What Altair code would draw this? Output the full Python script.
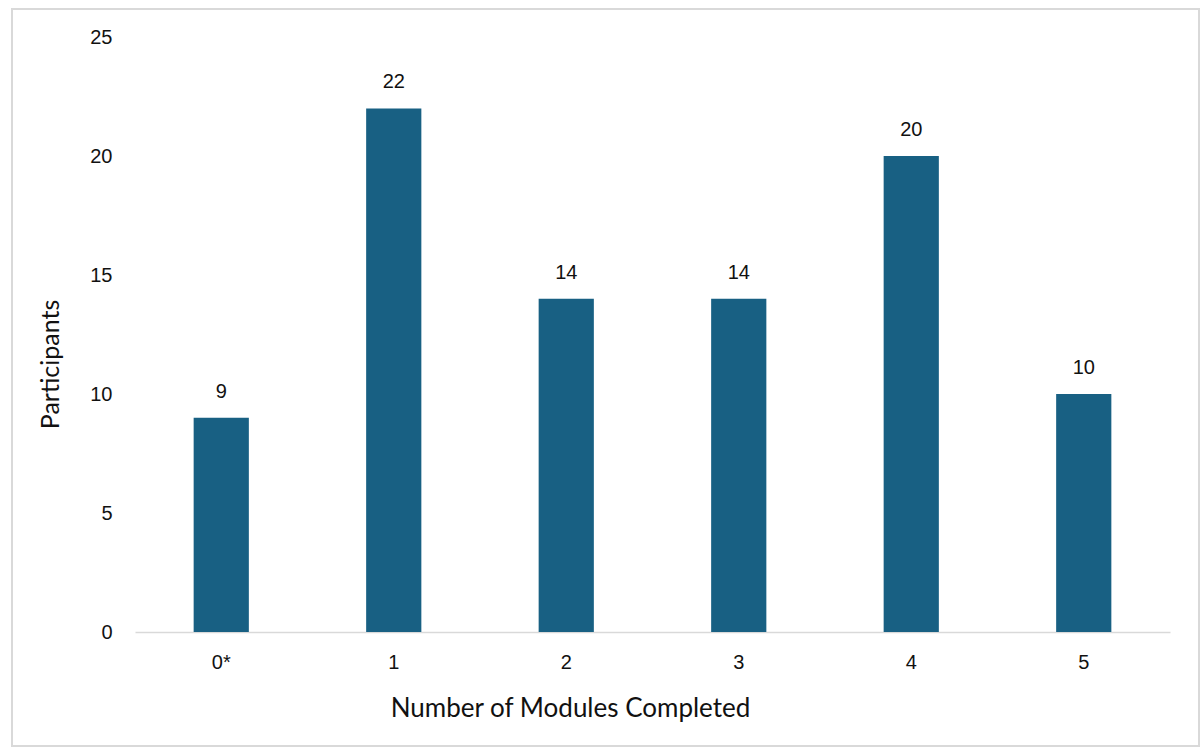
import altair as alt
import pandas as pd

categories = ["0*", "1", "2", "3", "4", "5"]
participants = [9, 22, 14, 14, 20, 10]

df = pd.DataFrame({"modules": categories, "participants": participants})

W, H = 1035, 595

yscale = alt.Scale(domain=[0, 25], nice=False, zero=True)

x = alt.X(
    "modules:N",
    sort=categories,
    scale=alt.Scale(paddingInner=0.68, paddingOuter=0.34),
    axis=alt.Axis(
        title="Number of Modules Completed",
        labelAngle=0,
        labelFont="Liberation Sans",
        labelFontSize=20,
        labelColor="#111111",
        labelPadding=20,
        ticks=False,
        domainColor="#d9d9d9",
        domainWidth=1.5,
        titleFont="Lato",
        titleFontSize=26,
        titleFontWeight="normal",
        titleColor="#111111",
        titleX=435,
        titleY=76,
        titleAlign="center",
        titleBaseline="middle",
    ),
)
y = alt.Y(
    "participants:Q",
    scale=yscale,
    axis=alt.Axis(
        title="Participants",
        values=[0, 5, 10, 15, 20, 25],
        grid=False,
        domain=False,
        ticks=False,
        labelFont="Liberation Sans",
        labelFontSize=20,
        labelColor="#111111",
        labelPadding=23,
        titleFont="Lato",
        titleFontSize=25,
        titleFontWeight="normal",
        titleColor="#111111",
        titleAngle=-90,
        titleX=-85,
        titleY=327,
        titleAlign="center",
        titleBaseline="middle",
    ),
)

bars = alt.Chart(df).mark_bar(color="#186083").encode(x=x, y=y)
labels = alt.Chart(df).mark_text(
    baseline="alphabetic", dy=-20, font="Liberation Sans", fontSize=20, color="#111111"
).encode(
    x=alt.X("modules:N", sort=categories),
    y=alt.Y("participants:Q", scale=yscale),
    text="participants:Q",
)

border = alt.Chart(df).mark_rect(fill=None, stroke="#d9d9d9", strokeWidth=1.5).encode(
    x=alt.value(-123), x2=alt.value(1064), y=alt.value(-28), y2=alt.value(709)
)

chart = (
    alt.layer(border, bars, labels)
    .properties(
        width=W,
        height=H,
        autosize=alt.AutoSizeParams(type="none"),
        padding={"left": 135, "top": 37, "right": 34, "bottom": 118},
        background="white",
    )
    .configure_view(stroke=None)
)

chart.save("out.html", embed_options={"renderer": "svg", "actions": False})
